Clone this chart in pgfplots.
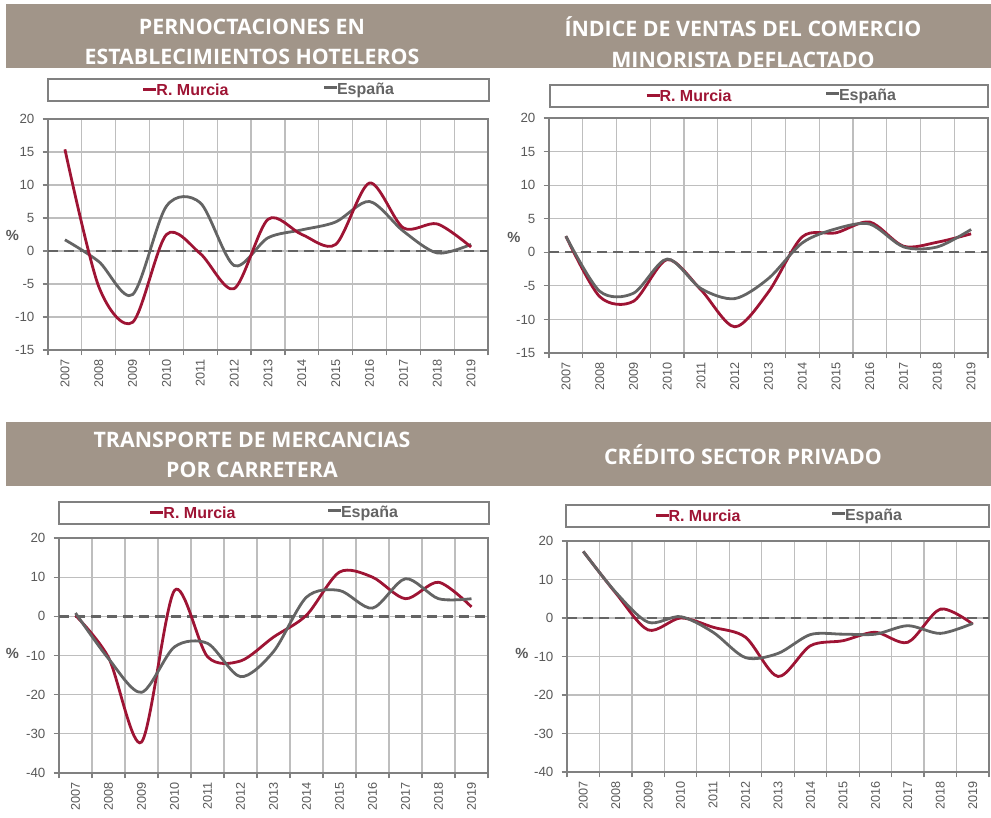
\documentclass[border=0pt]{standalone}
\usepackage{fontspec}
\setmainfont{Liberation Sans}
\newfontfamily\titlefont{Open Sans}
\usepackage{pgfplots}
\pgfplotsset{compat=1.18}
\definecolor{murcia}{RGB}{158,20,52}
\definecolor{espana}{RGB}{100,100,100}
\definecolor{banner}{RGB}{161,149,137}
\definecolor{tickc}{RGB}{89,89,89}
\definecolor{gridc}{RGB}{190,190,190}
\definecolor{framec}{RGB}{128,128,128}
\definecolor{zeroc}{RGB}{100,100,100}

\pgfplotsset{
 panel/.style={
  scale only axis, anchor=south west,
  xmin=-0.5, xmax=12.5,
  xtick={0,...,12},
  xticklabels={2007,2008,2009,2010,2011,2012,2013,2014,2015,2016,2017,2018,2019},
  minor xtick={-0.5,0.5,...,12.5},
  xminorgrids=true, ymajorgrids=true,
  grid style={draw=gridc, line width=0.9pt},
  minor grid style={draw=gridc, line width=0.9pt},
  axis line style={draw=framec, line width=1.1pt},
  tick align=outside, tick pos=left,
  major tick length=4pt, minor tick length=4pt,
  tick style={draw=framec, line width=0.9pt},
  major x tick style={draw=none},
  xticklabel style={rotate=90, anchor=east, font=\fontsize{9.5}{10}\selectfont, text=tickc, inner sep=3pt},
  yticklabel style={font=\fontsize{10}{11}\selectfont, text=tickc, inner sep=2pt, xshift=-4pt},
  every axis plot/.append style={smooth, tension=0.5, line width=2.1pt, no marks},
 },
}
\tikzset{zeroline/.style={draw=zeroc, line width=1.8pt, dash pattern=on 7.5pt off 4.5pt}}
\newcommand{\legitem}[2]{{\color{#1}\rule[0.3em]{9.75pt}{2.2pt}}\textcolor{#1}{#2}}
\newcommand{\legfont}{\bfseries\fontsize{12}{14}\selectfont}
\newcommand{\tfont}{\titlefont\bfseries\fontsize{16}{23}\selectfont}

\begin{document}
\begin{tikzpicture}[x=0.75pt,y=0.75pt]
\path[use as bounding box] (0,0) rectangle (991,817);
% banners
\fill[banner] (6,813) rectangle (991,749);
\fill[banner] (6,395) rectangle (991,331);
\node[text=white, align=center, font=\tfont] at (252,775) {PERNOCTACIONES EN\\ESTABLECIMIENTOS HOTELEROS};
\node[text=white, align=center, font=\tfont] at (743,775) {ÍNDICE DE VENTAS DEL COMERCIO\\MINORISTA DEFLACTADO};
\node[text=white, align=center, font=\tfont] at (252,362) {TRANSPORTE DE MERCANCIAS\\POR CARRETERA};
\node[text=white, align=center, font=\tfont] at (743,362) {CRÉDITO SECTOR PRIVADO};
% legend boxes
\draw[framec, line width=0.9pt] (48,738) rectangle (489,716);
\node[font=\legfont] at (186,727) {\legitem{murcia}{R. Murcia}};
\node[font=\legfont] at (359,727) {\legitem{espana}{España}};
\draw[framec, line width=0.9pt] (550,732) rectangle (988,710);
\node[font=\legfont] at (689,721) {\legitem{murcia}{R. Murcia}};
\node[font=\legfont] at (861,721) {\legitem{espana}{España}};
\draw[framec, line width=0.9pt] (59,315) rectangle (489,293);
\node[font=\legfont] at (193,304) {\legitem{murcia}{R. Murcia}};
\node[font=\legfont] at (363,304) {\legitem{espana}{España}};
\draw[framec, line width=0.9pt] (566,312) rectangle (989,290);
\node[font=\legfont] at (698,301) {\legitem{murcia}{R. Murcia}};
\node[font=\legfont] at (867,301) {\legitem{espana}{España}};
% % labels
\node[text=tickc, font=\bfseries\fontsize{11}{12}\selectfont] at (12.5,582) {\%};
\node[text=tickc, font=\bfseries\fontsize{11}{12}\selectfont] at (514,580) {\%};
\node[text=tickc, font=\bfseries\fontsize{11}{12}\selectfont] at (12.5,164) {\%};
\node[text=tickc, font=\bfseries\fontsize{11}{12}\selectfont] at (522,164) {\%};

% Panel 1
\begin{axis}[panel, at={(36pt,350.25pt)}, width=330pt, height=173.25pt,
  ymin=-15, ymax=20, ytick={-15,-10,-5,0,5,10,15,20},
  yticklabels={-15,-10,-5,0,5,10,15,20}]
\draw[zeroline] (axis cs:-0.5,0) -- (axis cs:12.5,0);
\addplot[espana] coordinates {(0,1.7) (1,-1.6) (2,-6.6) (3,6.8) (4,7.3) (5,-2.2) (6,2.0) (7,3.2) (8,4.4) (9,7.5) (10,3.0) (11,-0.3) (12,1.0)};
\addplot[murcia] coordinates {(0,15.4) (1,-5.4) (2,-10.8) (3,2.5) (4,-0.4) (5,-5.7) (6,4.8) (7,2.5) (8,1.0) (9,10.3) (10,3.5) (11,4.1) (12,0.6)};
\end{axis}

% Panel 2
\begin{axis}[panel, at={(411.75pt,348pt)}, width=329.25pt, height=176.25pt,
  ymin=-15, ymax=20, ytick={-15,-10,-5,0,5,10,15,20},
  yticklabels={-15,-10,-5,0,5,10,15,20}]
\draw[zeroline] (axis cs:-0.5,0) -- (axis cs:12.5,0);
\addplot[murcia] coordinates {(0,2.4) (1,-6.6) (2,-7.3) (3,-1.1) (4,-5.6) (5,-11.1) (6,-5.9) (7,2.3) (8,2.9) (9,4.5) (10,0.9) (11,1.5) (12,2.75)};
\addplot[espana] coordinates {(0,2.4) (1,-5.8) (2,-6.1) (3,-1.0) (4,-5.4) (5,-6.9) (6,-3.9) (7,1.4) (8,3.5) (9,4.2) (10,0.8) (11,0.8) (12,3.4)};
\end{axis}

% Panel 3
\begin{axis}[panel, at={(44.25pt,33pt)}, width=321.75pt, height=176.25pt,
  ymin=-40, ymax=20, ytick={-40,-30,-20,-10,0,10,20},
  yticklabels={-40,-30,-20,-10,0,10,20}]
\draw[zeroline] (axis cs:-0.5,0) -- (axis cs:12.5,0);
\addplot[murcia] coordinates {(0,0.25) (1,-10.5) (2,-32.1) (3,6.6) (4,-10.3) (5,-11.4) (6,-5.3) (7,0.3) (8,11.3) (9,10.0) (10,4.5) (11,8.7) (12,2.4)};
\addplot[espana] coordinates {(0,0.85) (1,-10.8) (2,-19.4) (3,-7.8) (4,-6.9) (5,-15.4) (6,-9.0) (7,4.9) (8,6.6) (9,2.1) (10,9.6) (11,4.5) (12,4.5)};
\end{axis}

% Panel 4
\begin{axis}[panel, at={(425.25pt,33.75pt)}, width=316.5pt, height=173.25pt,
  ymin=-40, ymax=20, ytick={-40,-30,-20,-10,0,10,20},
  yticklabels={-40,-30,-20,-10,0,10,20}]
\draw[zeroline] (axis cs:-0.5,0) -- (axis cs:12.5,0);
\addplot[murcia] coordinates {(0,17.3) (1,6.5) (2,-3.1) (3,0.0) (4,-2.4) (5,-5.0) (6,-15.2) (7,-7.2) (8,-5.9) (9,-3.7) (10,-6.3) (11,2.3) (12,-1.6)};
\addplot[espana] coordinates {(0,17.3) (1,6.7) (2,-1.1) (3,0.35) (4,-3.7) (5,-10.3) (6,-9.2) (7,-4.3) (8,-4.2) (9,-4.2) (10,-2.0) (11,-4.0) (12,-1.4)};
\end{axis}
\end{tikzpicture}
\end{document}
